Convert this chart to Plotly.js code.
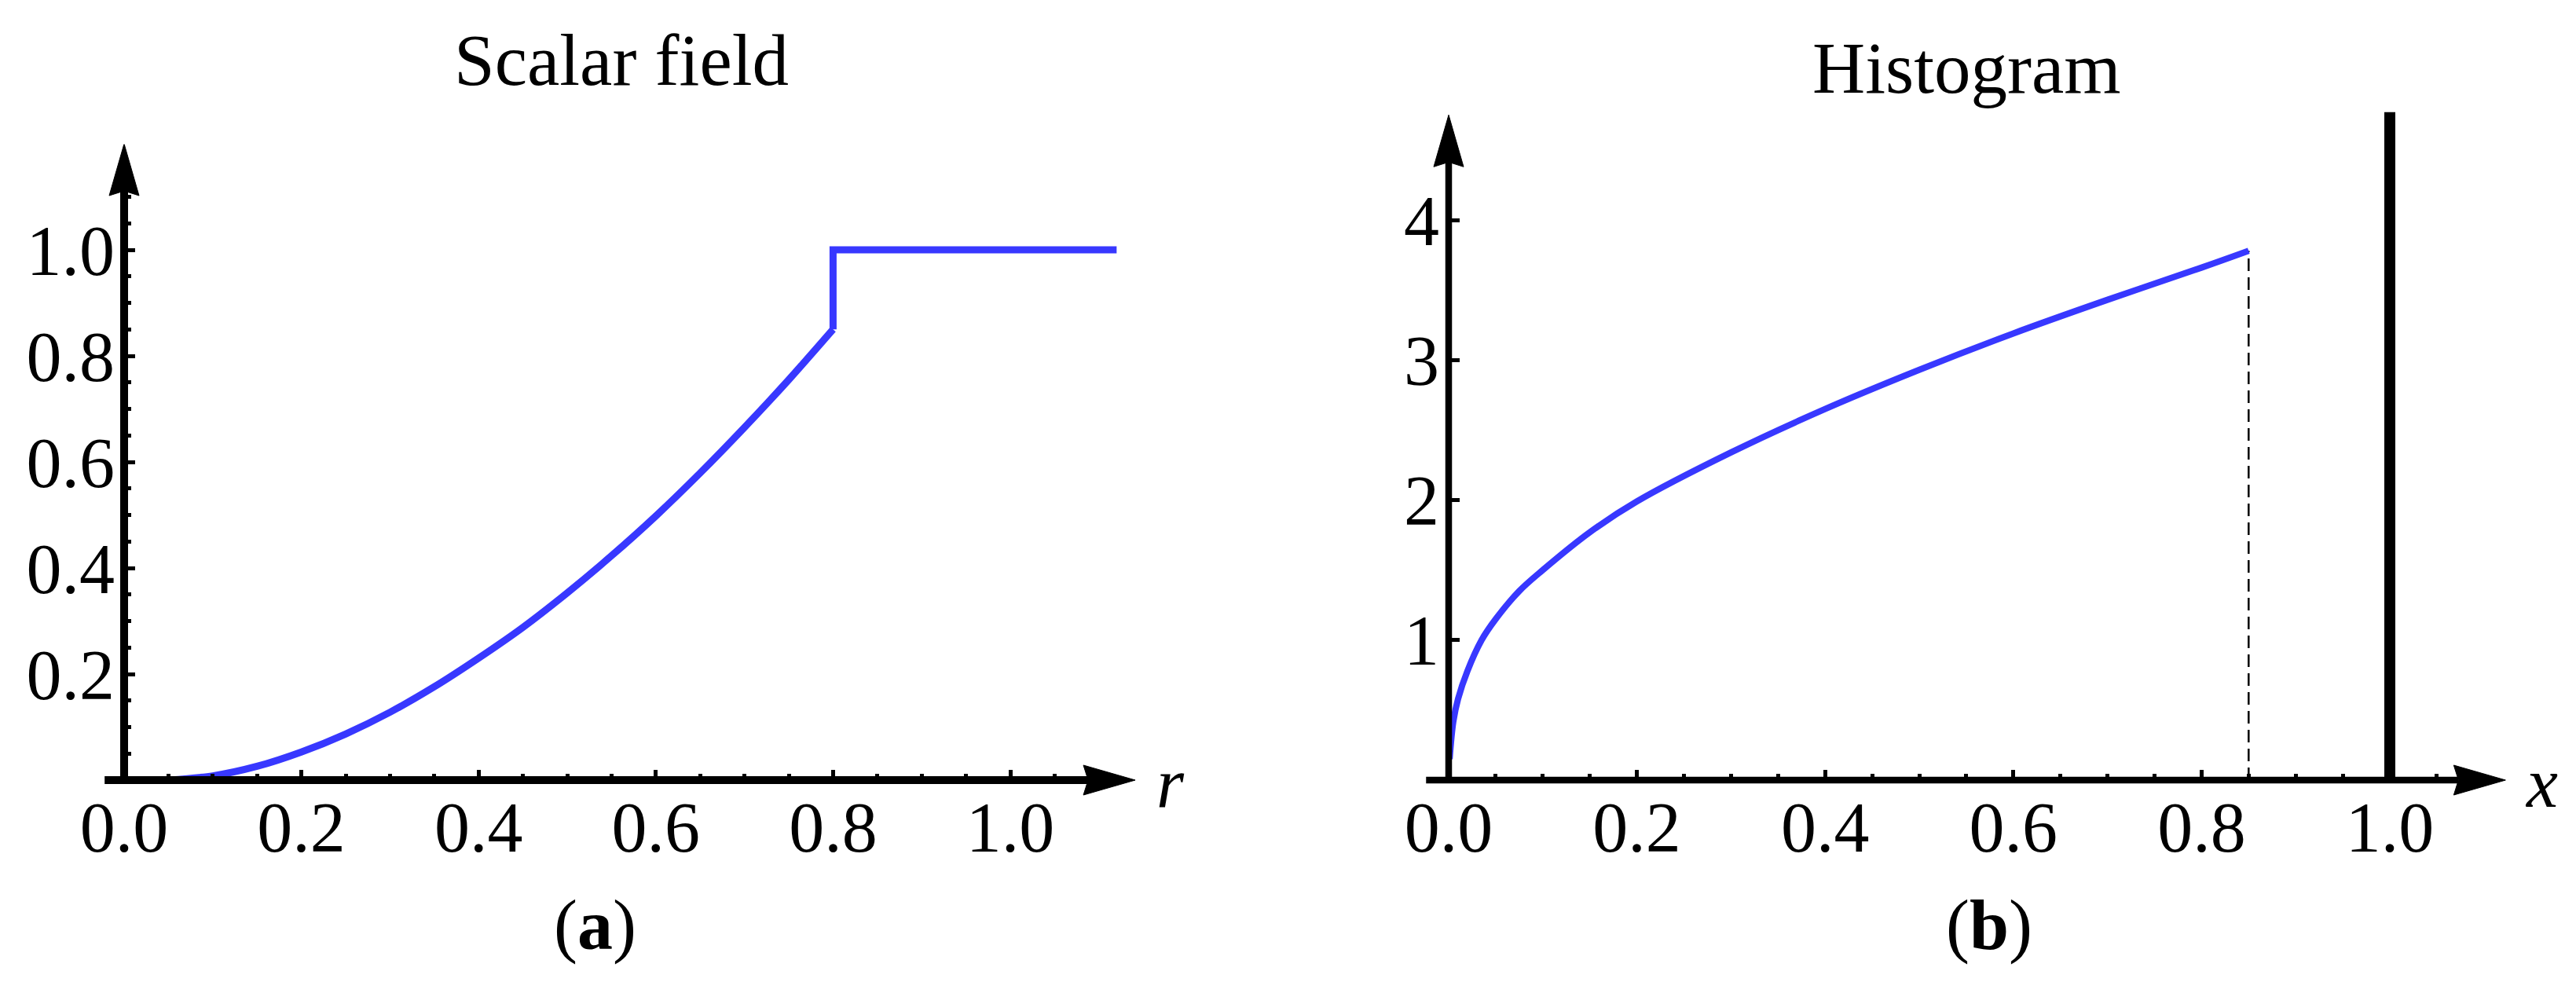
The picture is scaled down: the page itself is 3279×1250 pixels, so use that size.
<!DOCTYPE html>
<html><head><meta charset="utf-8">
<script src="https://cdn.plot.ly/plotly-3.0.1.min.js"></script>
<style>html,body{margin:0;padding:0;background:#fff}#chart{width:3279px;height:1250px}</style>
</head><body><div id="chart"></div>
<script>
// ---------------- data ----------------
const scalarR = [0.05, 0.10, 0.15, 0.20, 0.25, 0.30, 0.35, 0.40, 0.45, 0.50, 0.55, 0.60, 0.65, 0.70, 0.75, 0.80];
const scalarV = [0.000, 0.008, 0.026, 0.053, 0.087, 0.128, 0.176, 0.230, 0.288, 0.353, 0.423, 0.498, 0.579, 0.665, 0.755, 0.850];
const stepR = [0.80, 0.80, 1.12];
const stepV = [0.850, 1.000, 1.000];

const histX = [0.001, 0.005, 0.010, 0.020, 0.035, 0.050, 0.075, 0.100, 0.150, 0.200, 0.300, 0.400, 0.500, 0.600, 0.700, 0.800, 0.850];
const histY = [0.15, 0.42, 0.58, 0.78, 1.00, 1.15, 1.35, 1.50, 1.77, 1.99, 2.34, 2.65, 2.93, 3.19, 3.43, 3.66, 3.78];
const cutX = [0.85, 0.85];
const cutY = [0, 3.78];
const deltaX = [1.0, 1.0];
const deltaY = [0, 4.77];

const leftXTicks = [0, 0.2, 0.4, 0.6, 0.8, 1.0];
const leftXTickText = ["0.0", "0.2", "0.4", "0.6", "0.8", "1.0"];
const leftYTicks = [0.2, 0.4, 0.6, 0.8, 1.0];
const leftYTickText = ["0.2", "0.4", "0.6", "0.8", "1.0"];
const rightXTicks = [0, 0.2, 0.4, 0.6, 0.8, 1.0];
const rightXTickText = ["0.0", "0.2", "0.4", "0.6", "0.8", "1.0"];
const rightYTicks = [1, 2, 3, 4];
const rightYTickText = ["1", "2", "3", "4"];

const panelTitles = ["Scalar field", "Histogram"];
const panelTags = ["(<b>a</b>)", "(<b>b</b>)"];
const axisNames = ["<i>r</i>", "<i>x</i>"];

// axis extents in data units (start, arrow tip)
const leftAxisX = [-0.022, 1.141];
const leftAxisY = [0, 1.2];
const rightAxisX = [-0.024, 1.123];
const rightAxisY = [0, 4.75];

// ---------------- geometry / style ----------------
const W = 3279, H = 1250;
const BLUE = 'rgb(56,56,255)';
const SERIF = 'Liberation Serif, Times New Roman, serif';
const G = {
  left:  {x0: 158,  xppu: 1128, y0: 993, yppu: 675,    xr: [-0.04, 1.145], yr: [-0.04, 1.199], lw: 10},
  right: {x0: 1844, xppu: 1198, y0: 993, yppu: 178.25, xr: [-0.04, 1.13],  yr: [-0.25, 4.78],  lw: 8.5}
};
function dom(g) {
  return {
    x: [(g.x0 + g.xr[0] * g.xppu) / W, (g.x0 + g.xr[1] * g.xppu) / W],
    y: [1 - (g.y0 - g.yr[0] * g.yppu) / H, 1 - (g.y0 - g.yr[1] * g.yppu) / H]
  };
}
const dL = dom(G.left), dR = dom(G.right);
const px = v => v / W, py = v => 1 - v / H;

const AL = 66, AW = 38, AN = 6; // arrow length, width, notch (px)
function axisShapes(g, xref, yref, ax, ay) {
  const out = [];
  const xt = ax[1], bx = xt - AL / g.xppu, nx = xt - (AL - AN) / g.xppu, hy = AW / 2 / g.yppu;
  out.push({type: 'line', xref, yref, x0: ax[0], x1: nx, y0: 0, y1: 0, line: {color: '#000', width: g.lw}, layer: 'above'});
  out.push({type: 'path', xref, yref, path: `M${xt},0 L${bx},${hy} L${nx},0 L${bx},${-hy} Z`,
            fillcolor: '#000', line: {color: '#000', width: 1}, layer: 'above'});
  const yt = ay[1], by = yt - AL / g.yppu, ny = yt - (AL - AN) / g.yppu, hx = AW / 2 / g.xppu;
  out.push({type: 'line', xref, yref, x0: 0, x1: 0, y0: ay[0], y1: ny, line: {color: '#000', width: g.lw}, layer: 'above'});
  out.push({type: 'path', xref, yref, path: `M0,${yt} L${hx},${by} L0,${ny} L${-hx},${by} Z`,
            fillcolor: '#000', line: {color: '#000', width: 1}, layer: 'above'});
  return out;
}

const tickFont = {family: SERIF, size: 90, color: '#000'};
function xAxis(d, g, vals, text, minor) {
  const a = {domain: d.x, range: g.xr, anchor: 'free', position: 1 - g.y0 / H,
    showgrid: false, zeroline: false, showline: false, fixedrange: true,
    tickmode: 'array', tickvals: vals, ticktext: text,
    ticks: 'inside', ticklen: 13, tickwidth: 5, tickcolor: '#000', tickfont: tickFont, ticklabelstandoff: 0};
  if (minor) a.minor = {ticks: 'inside', tickmode: 'linear', tick0: 0, dtick: 0.05, ticklen: 8, tickwidth: 5, tickcolor: '#000', showgrid: false};
  return a;
}
function yAxis(d, g, vals, text, minor) {
  const a = {domain: d.y, range: g.yr, anchor: 'free', position: g.x0 / W,
    showgrid: false, zeroline: false, showline: false, fixedrange: true,
    tickmode: 'array', tickvals: vals, ticktext: text,
    ticks: 'inside', ticklen: 13, tickwidth: 5, tickcolor: '#000', tickfont: tickFont, ticklabelstandoff: 12};
  if (minor) a.minor = {ticks: 'inside', tickmode: 'linear', tick0: 0, dtick: 0.05, ticklen: 8, tickwidth: 5, tickcolor: '#000', showgrid: false};
  return a;
}

const traces = [
  {x: scalarR, y: scalarV, xaxis: 'x', yaxis: 'y', mode: 'lines', line: {color: BLUE, width: 9, shape: 'spline', smoothing: 0.8}, hoverinfo: 'skip'},
  {x: stepR, y: stepV, xaxis: 'x', yaxis: 'y', mode: 'lines', line: {color: BLUE, width: 9}, hoverinfo: 'skip'},
  {x: cutX, y: cutY, xaxis: 'x2', yaxis: 'y2', mode: 'lines', line: {color: '#000', width: 2.5, dash: '16px,8px'}, hoverinfo: 'skip'},
  {x: deltaX, y: deltaY, xaxis: 'x2', yaxis: 'y2', mode: 'lines', line: {color: '#000', width: 14}, hoverinfo: 'skip'},
  {x: histX, y: histY, xaxis: 'x2', yaxis: 'y2', mode: 'lines', line: {color: BLUE, width: 8, shape: 'spline', smoothing: 1}, hoverinfo: 'skip'}
];

function ann(text, xpx, ycenter, size) {
  return {text, xref: 'paper', yref: 'paper', x: px(xpx), y: py(ycenter), xanchor: 'center', yanchor: 'middle',
          showarrow: false, font: {family: SERIF, size, color: '#000'}};
}
const TS = 93, LS = 90;
const annotations = [
  ann(panelTitles[0], 791, 108 - 0.3375 * TS, TS),
  ann(panelTitles[1], 2503, 118 - 0.3375 * TS, TS),
  ann(panelTags[0], 757, 1208 - 0.3375 * LS, LS),
  ann(panelTags[1], 2532, 1208 - 0.3375 * LS, LS),
  ann(axisNames[0], 1490, 1027 - 0.3375 * LS, LS),
  ann(axisNames[1], 3235, 1027 - 0.3375 * LS, LS)
];

const layout = {
  width: W, height: H, margin: {l: 0, r: 0, t: 0, b: 0},
  paper_bgcolor: '#fff', plot_bgcolor: 'rgba(0,0,0,0)', showlegend: false,
  xaxis: xAxis(dL, G.left, leftXTicks, leftXTickText, true),
  yaxis: yAxis(dL, G.left, leftYTicks, leftYTickText, true),
  xaxis2: xAxis(dR, G.right, rightXTicks, rightXTickText, true),
  yaxis2: yAxis(dR, G.right, rightYTicks, rightYTickText, false),
  shapes: [].concat(axisShapes(G.left, 'x', 'y', leftAxisX, leftAxisY),
                    axisShapes(G.right, 'x2', 'y2', rightAxisX, rightAxisY)),
  annotations
};
Plotly.newPlot('chart', traces, layout, {staticPlot: true, displayModeBar: false});
</script></body></html>
